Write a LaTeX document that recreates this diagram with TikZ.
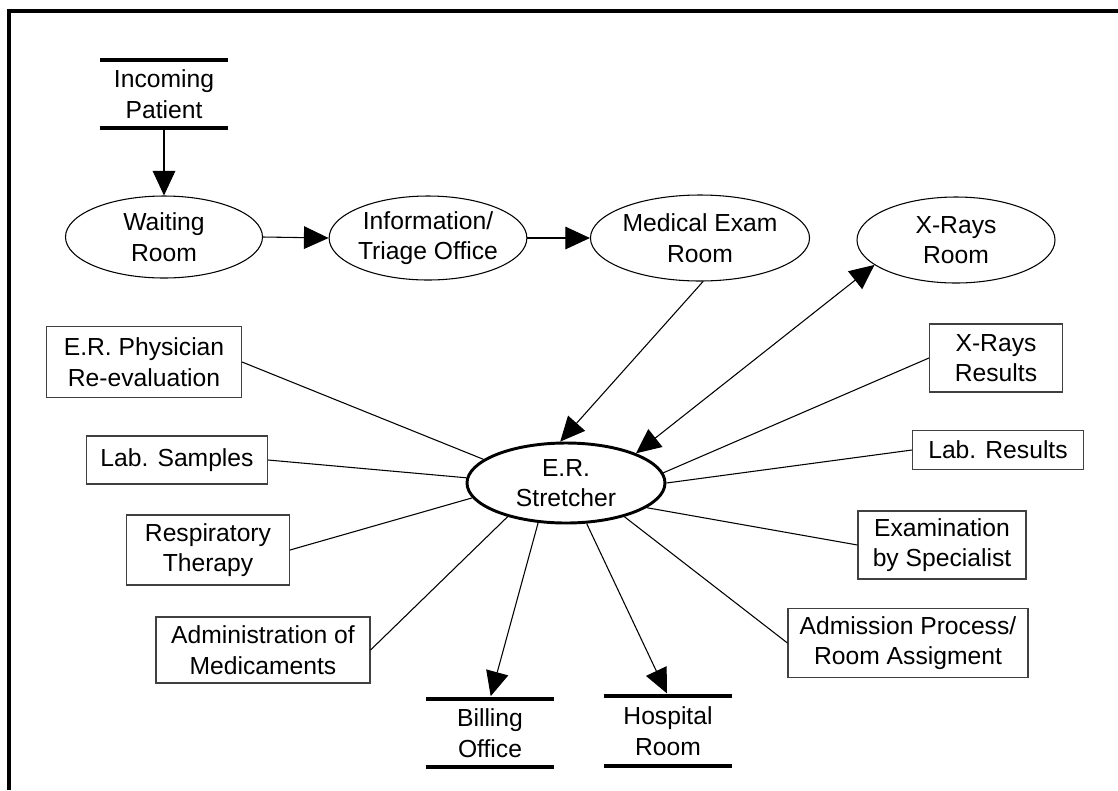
\documentclass[tikz,border=0pt]{standalone}
\usepackage{fontspec}
\setmainfont{Liberation Sans}
\usetikzlibrary{shapes.geometric,arrows.meta}
\def\u{0.75pt}
\tikzset{
  base/.style={inner sep=0pt, align=center, font=\fontsize{18.5pt}{23pt}\selectfont},
  ell/.style={base, ellipse, draw, line width=0.8pt},
  box/.style={base, rectangle, draw=black!75, line width=0.8pt},
  store/.style={base, rectangle},
  bar/.style={line width=3.2pt},
  con/.style={line width=0.8pt},
  arr/.style={con, -{Triangle[length=18.5pt,width=17pt]}},
  darr/.style={con, {Triangle[length=18.5pt,width=17pt]}-{Triangle[length=18.5pt,width=17pt]}},
}
\begin{document}
\begin{tikzpicture}[x=0.75pt,y=-0.75pt]
\useasboundingbox (0,0) rectangle (1118,790);
\coordinate (fa) at (9,790);
\coordinate (fb) at (9,11);
\coordinate (fc) at (1118,11);
\draw[line width=2.3pt] (fa) -- (fb) -- (fc);

% stores
\node[store, minimum width=128*\u, minimum height=68*\u] (inc) at (164,94) {Incoming\\Patient};
\draw[bar] (inc.north west) -- (inc.north east);
\draw[bar] (inc.south west) -- (inc.south east);
\node[store, minimum width=128*\u, minimum height=68*\u] (bill) at (490,733) {Billing\\Office};
\draw[bar] (bill.north west) -- (bill.north east);
\draw[bar] (bill.south west) -- (bill.south east);
\node[store, minimum width=127*\u, minimum height=70*\u] (hosp) at (668,731) {Hospital\\Room};
\draw[bar] (hosp.north west) -- (hosp.north east);
\draw[bar] (hosp.south west) -- (hosp.south east);

% ellipses
\node[ell, minimum width=197*\u, minimum height=82*\u] (wait) at (164,237) {Waiting\\Room};
\node[ell, minimum width=197*\u, minimum height=84*\u] (info) at (428,238) {Information/\\Triage Office};
\node[ell, minimum width=198*\u, minimum height=86*\u] (med) at (700,238) {Medical Exam\\Room};
\node[ell, minimum width=198*\u, minimum height=86*\u] (xr) at (956,240) {X-Rays\\Room};
\node[ell, line width=2.2pt, minimum width=198*\u, minimum height=80*\u] (str) at (566,483) {E.R.\\Stretcher};

% boxes
\node[box, minimum width=195*\u, minimum height=71*\u] (phys) at (144,362) {E.R. Physician\\Re-evaluation};
\node[box, minimum width=181*\u, minimum height=48*\u] (labs) at (177,460) {Lab. Samples};
\node[box, minimum width=163*\u, minimum height=70*\u] (resp) at (208,550) {Respiratory\\Therapy};
\node[box, minimum width=214*\u, minimum height=66*\u] (adm) at (263,650) {Administration of\\Medicaments};
\node[box, minimum width=133*\u, minimum height=68*\u] (xrr) at (996,358) {X-Rays\\Results};
\node[box, minimum width=171*\u, minimum height=39*\u] (labr) at (998,450) {Lab. Results};
\node[box, minimum width=168*\u, minimum height=68*\u] (exam) at (942,545) {Examination\\by Specialist};
\node[box, minimum width=240*\u, minimum height=69*\u] (admp) at (908,643) {Admission Process/\\Room Assigment};

% arrows
\draw[arr] (inc.south) -- (wait.north);
\draw[arr] (wait.east) -- (info.west);
\draw[arr] (info.east) -- (med.west);
\draw[arr] (med.274) -- (str.98.5);
\draw[darr] (str.23) -- (xr.197);
\draw[arr, shorten >=2pt] (str.235) -- (bill.north);
\draw[arr, shorten >=2pt] (str.297) -- (hosp.north);

% plain connectors
\draw[con] (phys.east) -- (str.164.7);
\draw[con] (labs.east) -- (str.177);
\draw[con] (resp.east) -- (str.189);
\draw[con] (adm.east) -- (str.210);
\draw[con] (xrr.west) -- (str.6.5);
\draw[con] (labr.west) -- (str.0);
\draw[con] (exam.west) -- (str.343);
\draw[con] (admp.west) -- (str.330);
\end{tikzpicture}
\end{document}
